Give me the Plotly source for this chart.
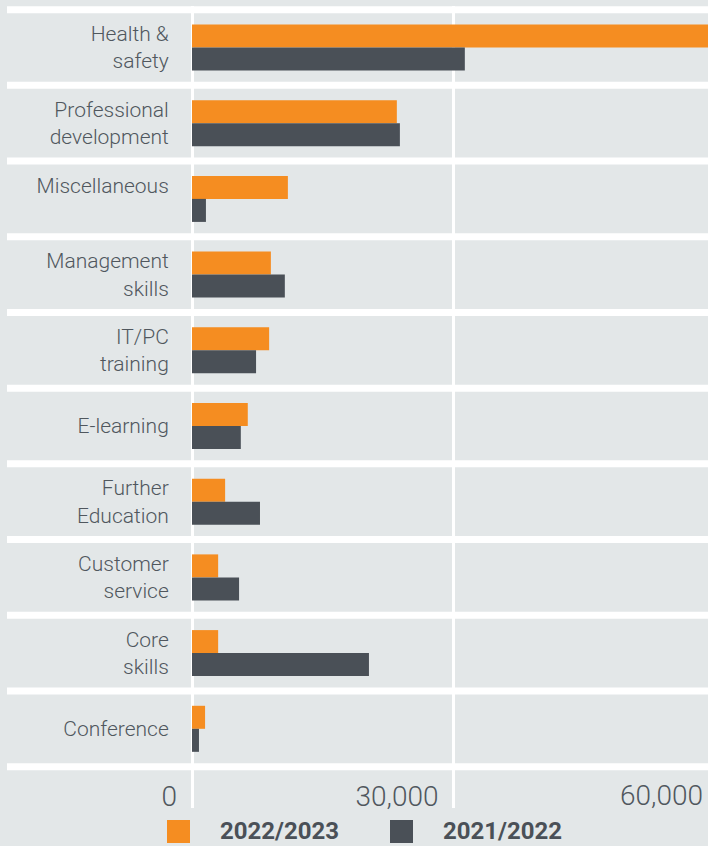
import plotly.graph_objects as go

categories = ["Health &<br>safety", "Professional<br>development", "Miscellaneous<br> ",
              "Management<br>skills", "IT/PC<br>training", "E-learning",
              "Further<br>Education", "Customer<br>service", "Core<br>skills", "Conference"]
series_names = ["2022/2023", "2021/2022"]
values_2022_2023 = [62000, 23500, 11000, 9050, 8850, 6400, 3800, 3000, 3000, 1500]
values_2021_2022 = [31300, 23850, 1600, 10650, 7350, 5600, 7800, 5400, 20300, 800]
tick_values = [0, 30000, 60000]
tick_labels = ["0", "30,000", "60,000"]

ORANGE = "#F58D21"
DARK = "#4A5057"
BG = "#E3E7E8"
TEXT = "#50575E"
FONT = "Roboto"

W, H = 708, 846
M_L, M_R, M_T, M_B = 186, 0, 6, 38
X_MIN, X_MAX = -688, 59197
Y_RANGE = [len(categories) - 1 + 1.046, -0.548]
plot_w = W - M_L - M_R
plot_h = H - M_T - M_B

fig = go.Figure()
fig.add_trace(go.Bar(y=categories, x=values_2022_2023, name=series_names[0], orientation="h",
                     marker=dict(color=ORANGE, line=dict(width=0)), showlegend=False))
fig.add_trace(go.Bar(y=categories, x=values_2021_2022, name=series_names[1], orientation="h",
                     marker=dict(color=DARK, line=dict(width=0)), showlegend=False))

# white separators between category bands
sep_x0 = (7 - M_L) / plot_w
for i in range(len(categories) + 1):
    fig.add_shape(type="line", xref="paper", yref="y", x0=sep_x0, x1=1,
                  y0=i - 0.5, y1=i - 0.5, line=dict(color="white", width=7), layer="below")

# manual legend (large squares)
for k, (nm, col) in enumerate(zip(series_names, [ORANGE, DARK])):
    sx = (167 + 223 * k - M_L) / plot_w
    sw = 23 / plot_w
    fig.add_shape(type="rect", xref="paper", yref="paper", x0=sx, x1=sx + sw,
                  y0=(H - M_B - 843) / plot_h, y1=(H - M_B - 820) / plot_h,
                  fillcolor=col, line=dict(width=0))
    fig.add_annotation(xref="paper", yref="paper", x=sx + 51 / plot_w, y=(H - M_B - 831.5) / plot_h,
                       text="<b>%s</b>" % nm, showarrow=False, xanchor="left", yanchor="middle",
                       font=dict(family=FONT, size=24, color=DARK))

# 60,000 label (its tick lies just beyond the right edge of the visible chart)
x_span = X_MAX - X_MIN
fig.add_annotation(xref="paper", yref="paper", x=(tick_values[2] - X_MIN) / x_span, y=0,
                   xshift=-10, yshift=-6, text=tick_labels[2], showarrow=False,
                   xanchor="right", yanchor="bottom",
                   font=dict(family=FONT, size=28, color=TEXT, weight=300))

fig.update_layout(
    width=W, height=H,
    margin=dict(l=M_L, r=M_R, t=M_T, b=M_B, pad=0),
    paper_bgcolor=BG, plot_bgcolor=BG,
    barmode="group", bargap=0.392, bargroupgap=0,
    font=dict(family=FONT, color=TEXT),
    xaxis=dict(range=[X_MIN, X_MAX], tickvals=tick_values, ticktext=tick_labels,
               showgrid=True, gridcolor="white", gridwidth=3, zeroline=False,
               showline=False, ticks="", ticklabelposition="inside left",
               ticklabeloverflow="allow", ticklabelshift=-15, ticklabelstandoff=-10,
               tickfont=dict(family=FONT, size=28, color=TEXT, weight=300)),
    yaxis=dict(categoryorder="array", categoryarray=categories, range=Y_RANGE,
               showgrid=False, zeroline=False, showline=False,
               ticks="outside", ticklen=12, tickcolor="rgba(0,0,0,0)",
               tickfont=dict(family=FONT, size=21, color=TEXT, weight=300)),
)

fig.write_html("out.html", config={"displayModeBar": False},
               post_script="document.body.style.margin='0';document.body.style.overflow='hidden';")
